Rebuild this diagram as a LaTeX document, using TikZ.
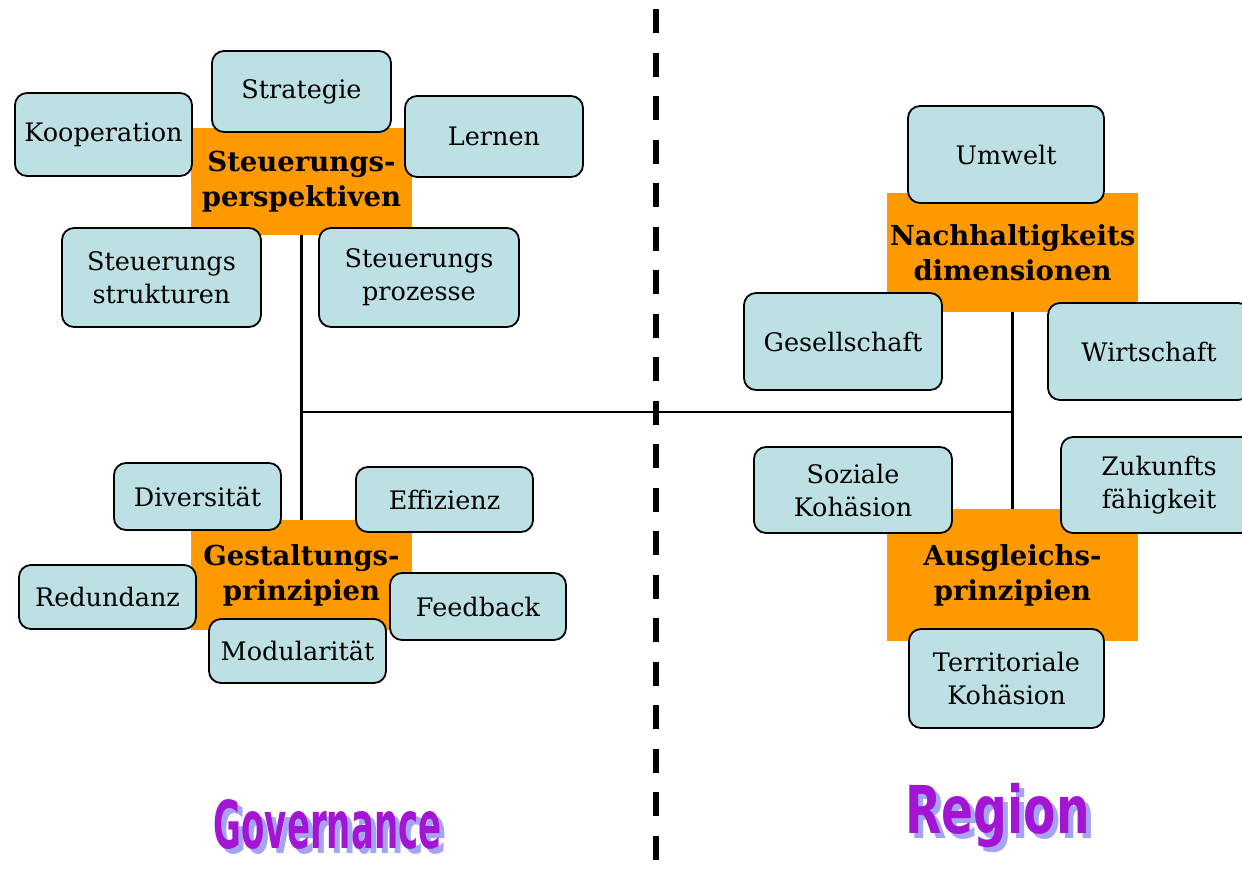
\documentclass[tikz,border=0pt]{standalone}
\usepackage{fontspec}
\setmainfont{DejaVu Serif}
\newfontfamily\wafont{DejaVu Sans}
\usepackage{graphicx}
\definecolor{boxc}{HTML}{BCE0E3}
\definecolor{orangec}{HTML}{FF9900}
\definecolor{wacol}{HTML}{A414D4}
\definecolor{washadow}{HTML}{A4A4F0}
\newcommand{\wordart}[3]{%
  \makebox[0pt][l]{\hspace{5pt}\raisebox{-5pt}{\textcolor{washadow}{\scalebox{#1}[#2]{#3}}}}%
  \scalebox{#1}[#2]{#3}}
\begin{document}
\begin{tikzpicture}[x=1pt,y=-1pt,
  box/.style={draw=black, fill=boxc, rounded corners=12pt, line width=1.8pt,
    align=center, inner sep=0pt, font=\fontsize{25.5}{33}\selectfont},
  hub/.style={fill=orangec, inner sep=0pt, align=center,
    font=\fontsize{27.5}{35}\selectfont\bfseries},
  link/.style={line width=2.8pt, black},
  wa/.style={inner sep=0pt, text=wacol, font=\fontsize{40}{40}\selectfont\wafont\bfseries}]
\useasboundingbox (0,0) rectangle (1242,868);
\clip (0,0) rectangle (1242,868);
\fill[white] (0,0) rectangle (1242,868);

% dashed divider
\coordinate (dtop) at (656,9);
\coordinate (dbot) at (656,868);
\draw[line width=6pt, dash pattern=on 24pt off 19.5pt] (dtop) -- (dbot);

% hubs
\node[hub, minimum width=221pt, minimum height=107pt] (steu) at (301.5,181.5) {Steuerungs-\\perspektiven};
\node[hub, minimum width=221pt, minimum height=110pt] (gest) at (301.5,575) {Gestaltungs-\\prinzipien};
\node[hub, minimum width=251pt, minimum height=119pt] (nach) at (1012.5,252.5) {Nachhaltigkeits\\dimensionen};
\node[hub, minimum width=251pt, minimum height=132pt] (aus) at (1012.5,575) {Ausgleichs-\\prinzipien};

% connectors
\coordinate (jl) at (301.5,412);
\coordinate (jr) at (1012.5,412);
\draw[link] (steu.south) -- (gest.north);
\draw[link] (nach.south) -- (aus.north);
\draw[link] (jl) -- (jr);

% Steuerungsperspektiven satellites
\node[box, minimum width=177pt, minimum height=83pt] (koop) at (103.5,134.5) {Kooperation};
\node[box, minimum width=179pt, minimum height=81pt] (strat) at (301.5,91.5) {Strategie};
\node[box, minimum width=178pt, minimum height=81pt] (lern) at (494,136.5) {Lernen};
\node[box, minimum width=199pt, minimum height=99pt] (struk) at (161.5,277.5) {Steuerungs\\strukturen};
\node[box, minimum width=200pt, minimum height=99pt] (proz) at (419,277.5) {Steuerungs\\prozesse};

% Gestaltungsprinzipien satellites
\node[box, minimum width=167pt, minimum height=67pt] (div) at (197.5,496.5) {Diversität};
\node[box, minimum width=177pt, minimum height=65pt] (eff) at (444.5,499.5) {Effizienz};
\node[box, minimum width=177pt, minimum height=64pt] (red) at (107.5,597) {Redundanz};
\node[box, minimum width=176pt, minimum height=67pt] (feed) at (478,606.5) {Feedback};
\node[box, minimum width=177pt, minimum height=64pt] (mod) at (297.5,651) {Modularität};

% Nachhaltigkeitsdimensionen satellites
\node[box, minimum width=196pt, minimum height=97pt] (umw) at (1006,154.5) {Umwelt};
\node[box, minimum width=198pt, minimum height=97pt] (ges) at (843,341.5) {Gesellschaft};
\node[box, minimum width=202pt, minimum height=97pt] (wirt) at (1149,351.5) {Wirtschaft};

% Ausgleichsprinzipien satellites
\node[box, minimum width=198pt, minimum height=86pt] (soz) at (853,490) {Soziale\\Kohäsion};
\node[box, minimum width=196pt, minimum height=96pt] (zuk) at (1159,485) {Zukunfts\\fähigkeit};
\node[box, minimum width=195pt, minimum height=99pt] (terr) at (1006.5,678.5) {Territoriale\\Kohäsion};

% word art titles
\node[wa] (gov) at (327.5,827) {\wordart{0.85}{1.65}{Governance}};
\node[wa] (reg) at (997.5,818) {\wordart{1.18}{1.65}{Region}};
\end{tikzpicture}
\end{document}
